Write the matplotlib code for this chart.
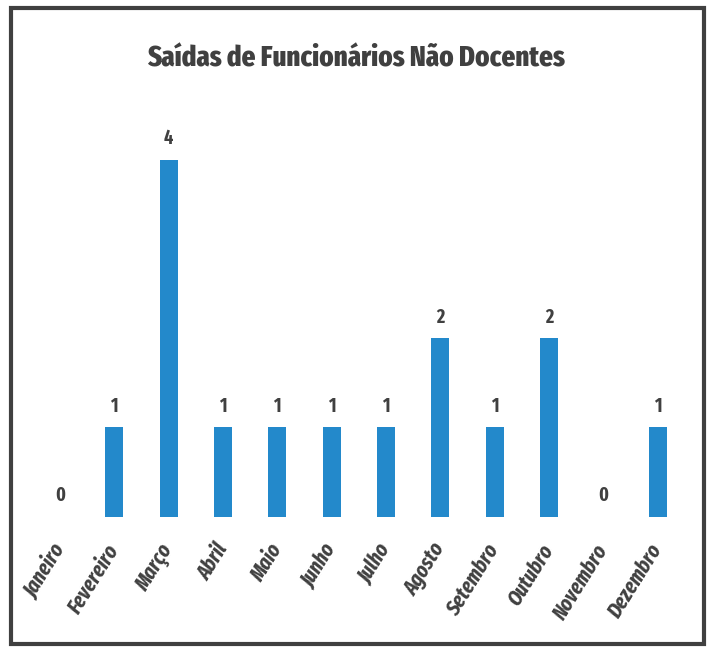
import matplotlib
matplotlib.use("Agg")
import matplotlib.pyplot as plt
from matplotlib.patches import Rectangle

months = ["Janeiro", "Fevereiro", "Março", "Abril", "Maio", "Junho", "Julho",
          "Agosto", "Setembro", "Outubro", "Novembro", "Dezembro"]
values = [0, 1, 4, 1, 1, 1, 1, 2, 1, 2, 0, 1]
title = "Saídas de Funcionários Não Docentes"

FONT = ["Fira Sans Extra Condensed", "Roboto Condensed", "DejaVu Sans"]
TXT = "#404040"

fig = plt.figure(figsize=(7.12, 6.5), dpi=100)
ax = fig.add_axes([0.046, 0.205, 0.916, 0.618])

x = range(len(months))
ax.bar(x, values, width=0.33, color="#2389cb")
for xi, v in zip(x, values):
    ax.text(xi, v + 0.13, str(v), ha="center", va="bottom", fontsize=14,
            fontweight="bold", color=TXT, family=FONT)

ax.set_xlim(-0.5, len(months) - 0.5)
ax.set_ylim(0, 4.5)
ax.set_xticks(list(x))
ax.set_xticklabels(months, rotation=58, ha="right", va="center", rotation_mode="anchor",
                   fontsize=15.5, fontweight="bold", fontstyle="italic",
                   color=TXT, family=FONT)
ax.tick_params(axis="x", length=0, pad=21)
ax.set_yticks([])
for s in ax.spines.values():
    s.set_visible(False)

t = fig.text(0.5, 0.91, title, ha="center", va="center", fontsize=26,
             fontweight=800, color=TXT, family=FONT)
fig.canvas.draw()
w = t.get_window_extent().width
t.set_fontsize(26 * 418 / w)

fig.patches.append(Rectangle((0.016, 0.01), 0.973, 0.977, transform=fig.transFigure,
                             fill=False, edgecolor=TXT, linewidth=3))

fig.savefig("out.png", dpi=100)
